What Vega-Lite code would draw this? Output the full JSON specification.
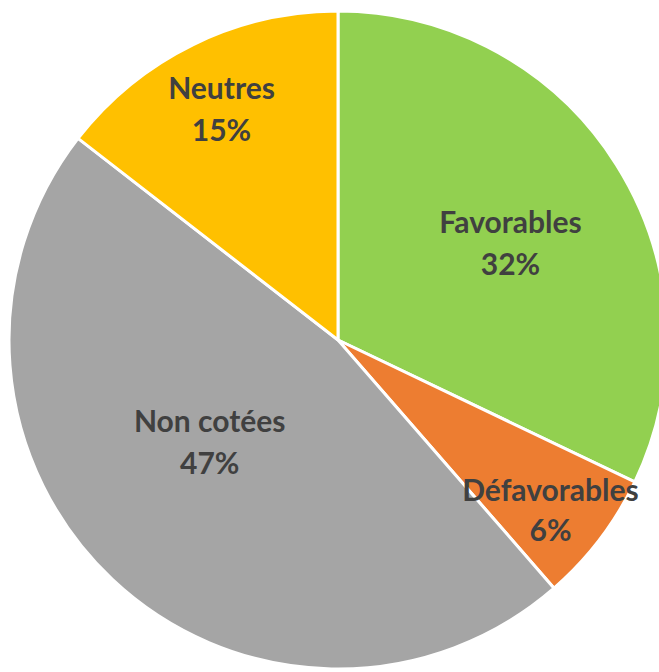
{
  "$schema": "https://vega.github.io/schema/vega-lite/v6.json",
  "width": 659,
  "height": 672,
  "autosize": {"type": "fit", "contains": "padding"},
  "padding": {"left": 17, "top": 8, "right": 0, "bottom": 0},
  "background": "white",
  "view": {"stroke": null},
  "data": {
    "values": [
      {"cat": "Favorables", "value": 32.1, "rank": 1, "label": "Favorables\n32%"},
      {"cat": "Défavorables", "value": 6.5, "rank": 2, "label": "Défavorables\n6%"},
      {"cat": "Non cotées", "value": 46.9, "rank": 3, "label": "Non cotées\n47%"},
      {"cat": "Neutres", "value": 14.5, "rank": 4, "label": "Neutres\n15%"}
    ]
  },
  "encoding": {
    "theta": {"field": "value", "type": "quantitative", "stack": true},
    "order": {"field": "rank", "type": "quantitative"}
  },
  "layer": [
    {
      "mark": {"type": "arc", "outerRadius": 329, "stroke": "white", "strokeWidth": 3},
      "encoding": {
        "color": {
          "field": "cat",
          "type": "nominal",
          "scale": {
            "domain": ["Favorables", "Défavorables", "Non cotées", "Neutres"],
            "range": ["#92D050", "#ED7D31", "#A5A5A5", "#FFC000"]
          },
          "legend": null
        }
      }
    },
    {
      "mark": {"type": "text", "radius": 198, "dx": 5, "dy": -10, "font": "Lato", "fontWeight": "bold", "fontSize": 30, "lineHeight": 42, "lineBreak": "\n", "color": "#404040", "align": "center", "baseline": "middle"},
      "encoding": {"text": {"condition": {"test": "datum.cat === 'Favorables'", "field": "label"}, "value": ""}}
    },
    {
      "mark": {"type": "text", "radius": 272, "dx": -4, "dy": -13, "font": "Lato", "fontWeight": "bold", "fontSize": 30, "lineHeight": 40, "lineBreak": "\n", "color": "#404040", "align": "center", "baseline": "middle"},
      "encoding": {"text": {"condition": {"test": "datum.cat === 'Défavorables'", "field": "label"}, "value": ""}}
    },
    {
      "mark": {"type": "text", "radius": 165, "dx": -15, "dy": -37, "font": "Lato", "fontWeight": "bold", "fontSize": 30, "lineHeight": 42, "lineBreak": "\n", "color": "#404040", "align": "center", "baseline": "middle"},
      "encoding": {"text": {"condition": {"test": "datum.cat === 'Non cotées'", "field": "label"}, "value": ""}}
    },
    {
      "mark": {"type": "text", "radius": 258, "dx": -3, "dy": -18, "font": "Lato", "fontWeight": "bold", "fontSize": 30, "lineHeight": 42, "lineBreak": "\n", "color": "#404040", "align": "center", "baseline": "middle"},
      "encoding": {"text": {"condition": {"test": "datum.cat === 'Neutres'", "field": "label"}, "value": ""}}
    }
  ]
}
